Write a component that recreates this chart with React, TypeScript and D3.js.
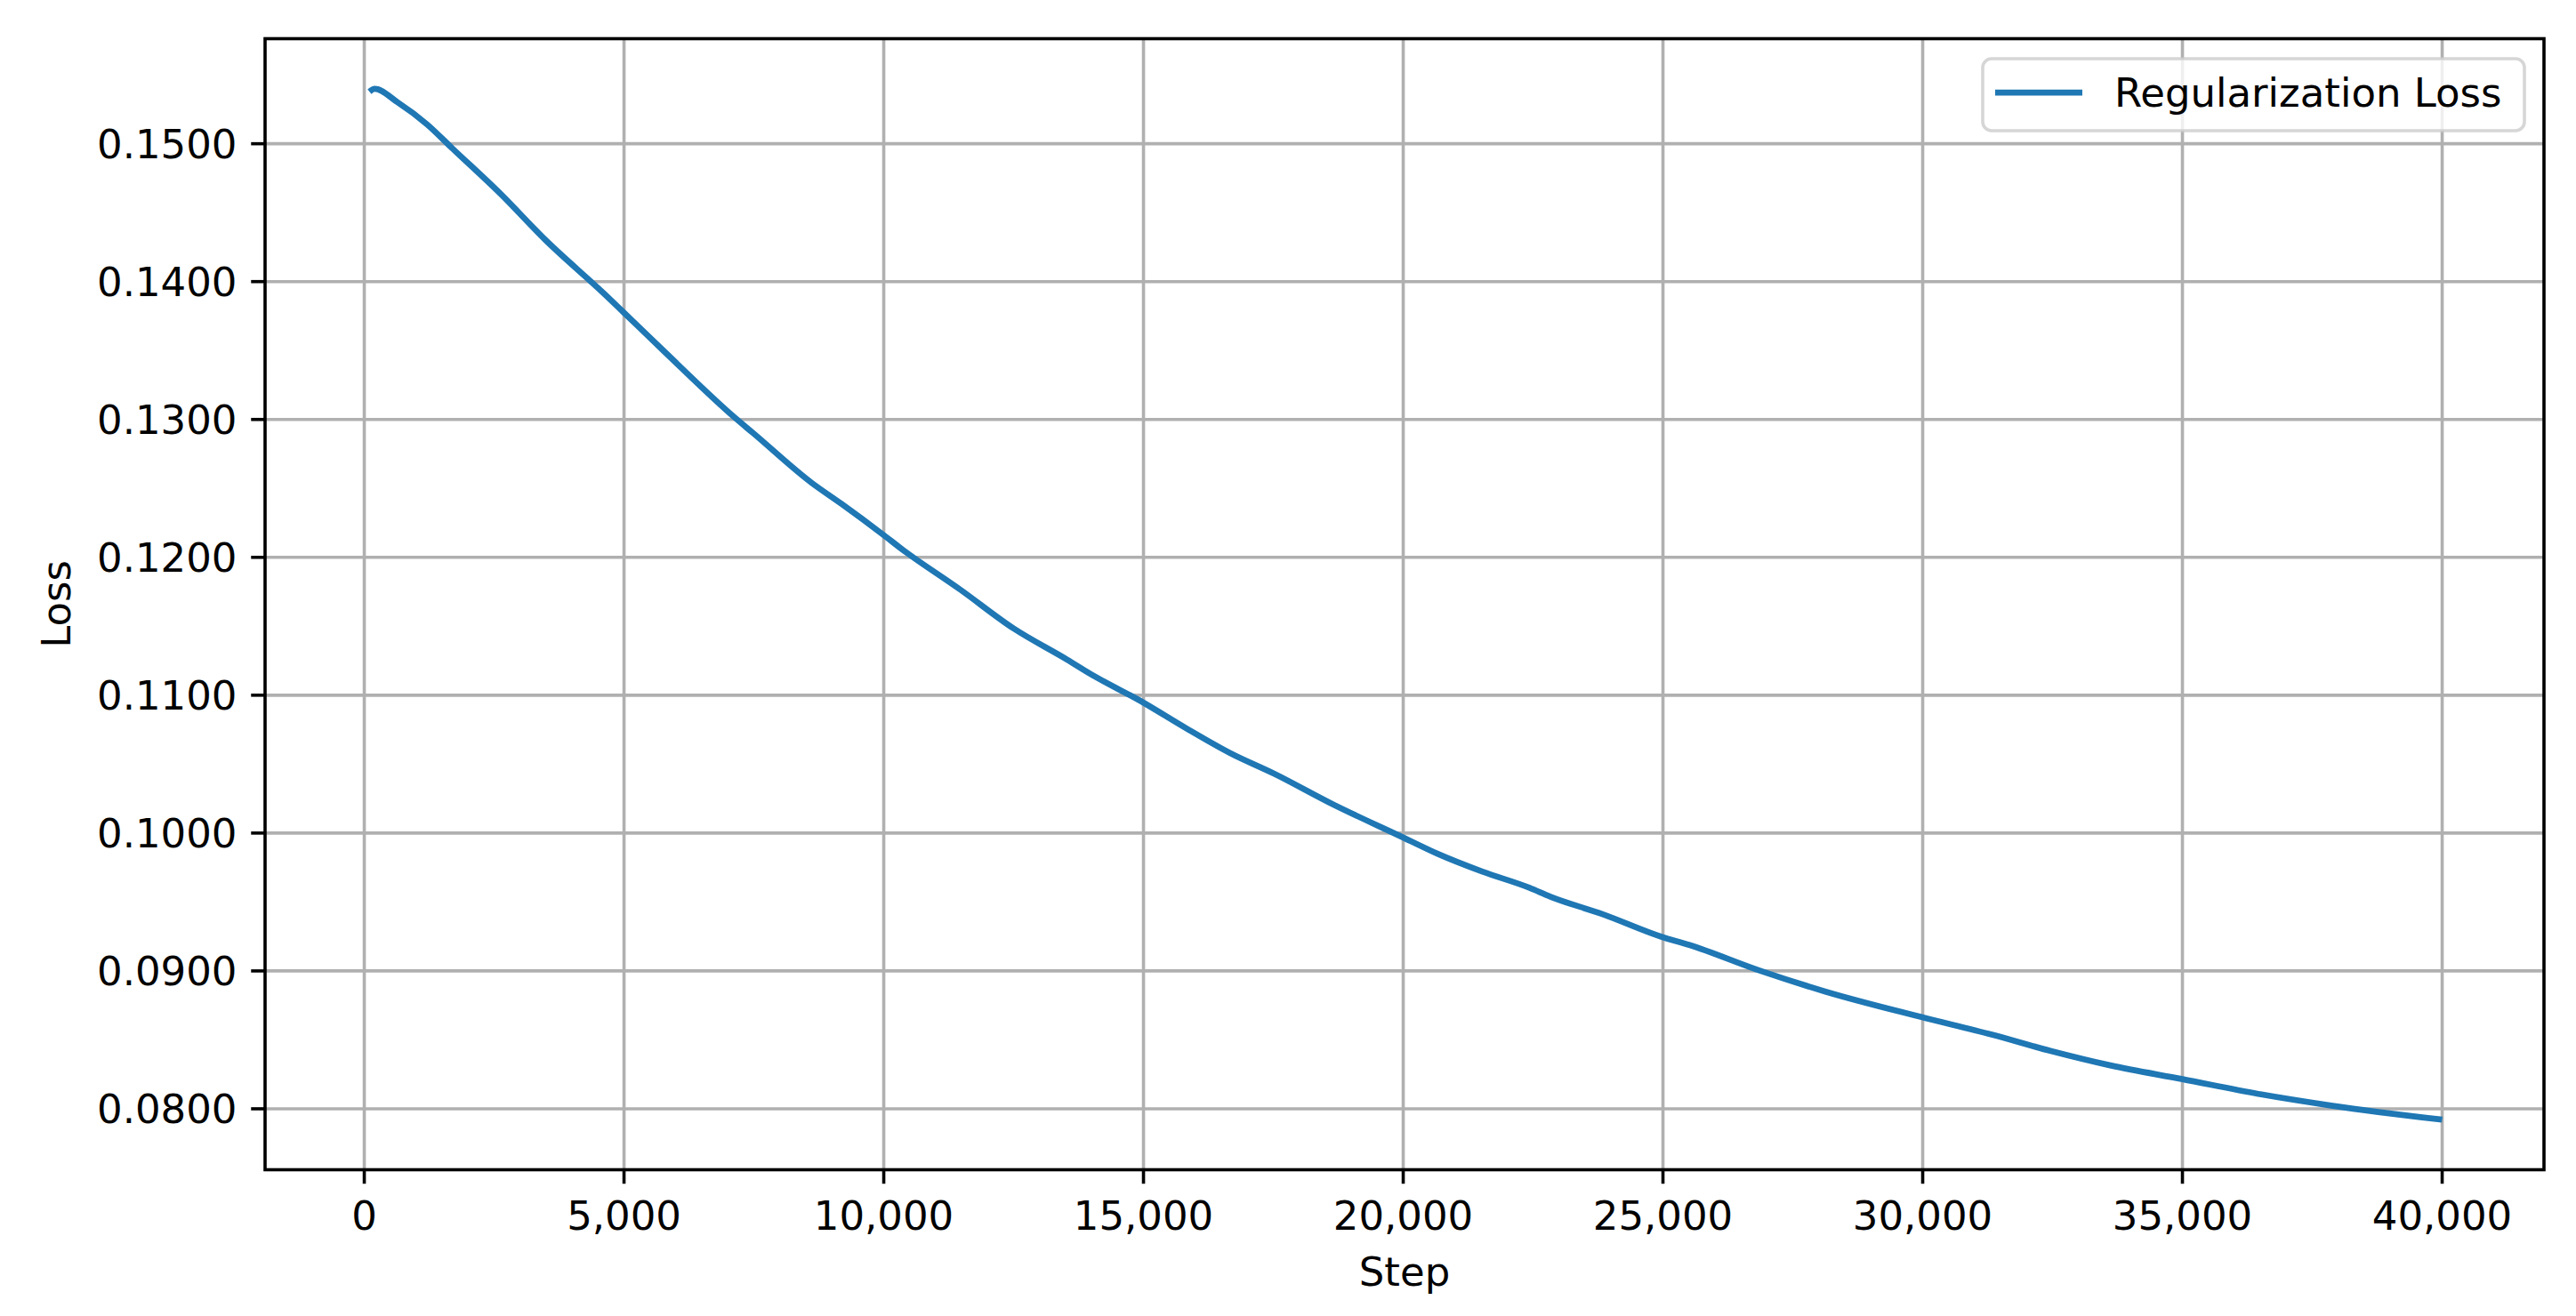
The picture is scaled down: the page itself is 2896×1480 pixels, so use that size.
import React from "react";
import * as d3 from "d3";

const steps = [100, 200, 640, 1210, 1690, 2630, 3490, 4630, 5000, 5770, 7140, 7480, 8620, 9190, 10000, 10330, 11480, 12500, 13530, 14000, 15000, 15810, 16670, 17520, 18670, 20000, 20660, 21520, 22430, 22830, 23850, 24970, 25510, 26880, 28130, 29960, 31330, 32470, 33610, 35000, 36460, 37890, 40000];
const lossValues = [0.15377, 0.15398, 0.15301, 0.1514, 0.14968, 0.14634, 0.14301, 0.13908, 0.13774, 0.13495, 0.13011, 0.12903, 0.12538, 0.12387, 0.12161, 0.12065, 0.11764, 0.11484, 0.11258, 0.1115, 0.10946, 0.10763, 0.1058, 0.1043, 0.10204, 0.09968, 0.0985, 0.09721, 0.09603, 0.09539, 0.0941, 0.09248, 0.09188, 0.09, 0.0885, 0.08667, 0.08538, 0.08419, 0.08315, 0.08215, 0.08108, 0.08022, 0.07921];
const xTicks = [0, 5000, 10000, 15000, 20000, 25000, 30000, 35000, 40000];
const yTicks = [0.08, 0.09, 0.1, 0.11, 0.12, 0.13, 0.14, 0.15];
const seriesName = "Regularization Loss";
const xLabel = "Step";
const yLabel = "Loss";

const W = 2896;
const H = 1480;
const L = 298, R = 2860, T = 43.5, B = 1315.5;
const FS = 45;
const FONT = "'DejaVu Sans', sans-serif";
const BLUE = "#1f77b4";

export default function App() {
  const x = d3.scaleLinear().domain([-1910, 41960]).range([L, R]);
  const y = d3.scaleLinear().domain([0.07558, 0.15762]).range([B, T]);
  const data = steps.map((s, i) => [s, lossValues[i]] as [number, number]);
  const line = d3
    .line<[number, number]>()
    .x((d) => x(d[0]))
    .y((d) => y(d[1]))
    .curve(d3.curveMonotoneX);
  const fx = d3.format(",");
  const fy = d3.format(".4f");

  return (
    <svg width={W} height={H} style={{ position: "absolute", left: 0, top: 0, background: "#fff" }} fontFamily={FONT}>
      <rect x={0} y={0} width={W} height={H} fill="#fff" />
      <g>
        {xTicks.map((t) => (
          <line key={"gx" + t} x1={x(t)} x2={x(t)} y1={T} y2={B} stroke="#b0b0b0" strokeWidth={3.6} />
        ))}
        {yTicks.map((t) => (
          <line key={"gy" + t} x1={L} x2={R} y1={y(t)} y2={y(t)} stroke="#b0b0b0" strokeWidth={3.6} />
        ))}
      </g>
      <path d={line(data) || ""} fill="none" stroke={BLUE} strokeWidth={6.75} strokeLinejoin="round" strokeLinecap="butt" />
      {/* legend */}
      <g>
        <rect x={2229} y={66} width={609} height={81} rx={10} ry={10} fill="#fff" fillOpacity={0.8} stroke="#cccccc" strokeOpacity={0.8} strokeWidth={3.6} />
        <line x1={2243} x2={2341} y1={104} y2={104} stroke={BLUE} strokeWidth={6.75} />
        <text x={2377} y={120} fontSize={FS} fill="#000">{seriesName}</text>
      </g>
      {/* spines */}
      <rect x={L} y={T} width={R - L} height={B - T} fill="none" stroke="#000" strokeWidth={3.6} />
      {/* ticks */}
      {xTicks.map((t) => (
        <g key={"tx" + t}>
          <line x1={x(t)} x2={x(t)} y1={B} y2={B + 15.75} stroke="#000" strokeWidth={3.6} />
          <text x={x(t)} y={1383} fontSize={FS} textAnchor="middle" fill="#000">{fx(t)}</text>
        </g>
      ))}
      {yTicks.map((t) => (
        <g key={"ty" + t}>
          <line x1={L - 15.75} x2={L} y1={y(t)} y2={y(t)} stroke="#000" strokeWidth={3.6} />
          <text x={L - 15.75 - 15.75} y={y(t) + 16.4} fontSize={FS} textAnchor="end" fill="#000">{fy(t)}</text>
        </g>
      ))}
      <text x={(L + R) / 2} y={1446} fontSize={FS} textAnchor="middle" fill="#000">{xLabel}</text>
      <text transform={`translate(79, ${(T + B) / 2}) rotate(-90)`} fontSize={FS} textAnchor="middle" fill="#000">{yLabel}</text>
    </svg>
  );
}
